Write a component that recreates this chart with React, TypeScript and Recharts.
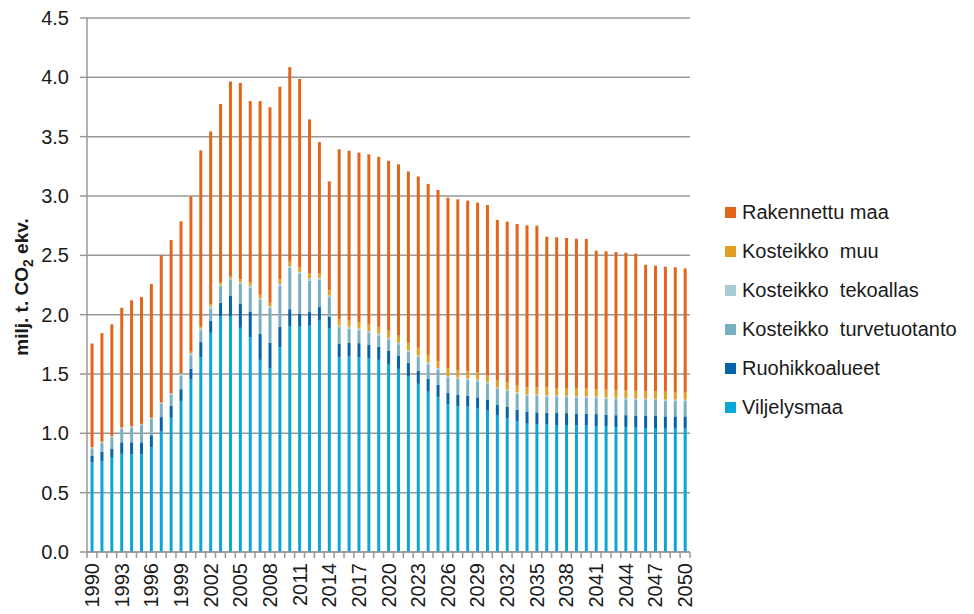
import React from "react";
import { BarChart, Bar, XAxis, YAxis, CartesianGrid } from "recharts";

const years = Array.from({ length: 61 }, (_, i) => String(1990 + i));

const viljelysmaa = [
  0.755, 0.767, 0.794, 0.827, 0.824, 0.824, 0.884, 1.02, 1.131, 1.273,
  1.453, 1.643, 1.847, 1.989, 1.989, 1.889, 1.811, 1.619, 1.546, 1.727,
  1.904, 1.904, 1.907, 1.952, 1.883, 1.64, 1.646, 1.643, 1.634, 1.619,
  1.585, 1.543, 1.483, 1.417, 1.351, 1.303, 1.243, 1.228, 1.225, 1.211,
  1.191, 1.149, 1.124, 1.101, 1.081, 1.079, 1.073, 1.07, 1.07, 1.067,
  1.065, 1.062, 1.056, 1.053, 1.053, 1.048, 1.045, 1.045, 1.039, 1.039,
  1.039,
];
const ruohikkoalueet = [
  0.054, 0.078, 0.078, 0.097, 0.1, 0.1, 0.1, 0.117, 0.099, 0.099,
  0.093, 0.126, 0.102, 0.111, 0.171, 0.201, 0.214, 0.219, 0.217, 0.171,
  0.142, 0.106, 0.115, 0.112, 0.1, 0.114, 0.117, 0.117, 0.111, 0.111,
  0.109, 0.109, 0.111, 0.111, 0.111, 0.105, 0.099, 0.098, 0.092, 0.092,
  0.093, 0.09, 0.098, 0.098, 0.102, 0.098, 0.101, 0.101, 0.1, 0.1,
  0.1, 0.1, 0.1, 0.1, 0.1, 0.1, 0.104, 0.104, 0.104, 0.104,
  0.104,
];
const turvetuotanto = [
  0.066, 0.075, 0.096, 0.116, 0.125, 0.146, 0.136, 0.113, 0.1, 0.114,
  0.112, 0.099, 0.1, 0.14, 0.132, 0.17, 0.204, 0.292, 0.295, 0.346,
  0.349, 0.334, 0.264, 0.231, 0.165, 0.141, 0.12, 0.108, 0.105, 0.096,
  0.099, 0.099, 0.094, 0.115, 0.12, 0.129, 0.13, 0.134, 0.135, 0.135,
  0.137, 0.135, 0.135, 0.135, 0.132, 0.138, 0.135, 0.135, 0.135, 0.135,
  0.135, 0.135, 0.135, 0.135, 0.134, 0.134, 0.131, 0.131, 0.131, 0.131,
  0.129,
];
const tekoallas = [
  0.007, 0.007, 0.007, 0.007, 0.007, 0.007, 0.007, 0.007, 0.006, 0.016,
  0.017, 0.015, 0.021, 0.015, 0.012, 0.014, 0.015, 0.009, 0.012, 0.015,
  0.015, 0.015, 0.018, 0.015, 0.012, 0.012, 0.015, 0.015, 0.012, 0.015,
  0.012, 0.012, 0.012, 0.012, 0.015, 0.012, 0.011, 0.009, 0.011, 0.014,
  0.012, 0.011, 0.011, 0.012, 0.011, 0.011, 0.011, 0.011, 0.011, 0.011,
  0.011, 0.011, 0.011, 0.011, 0.011, 0.011, 0.011, 0.011, 0.011, 0.011,
  0.012,
];
const muu = [
  0.003, 0.003, 0.003, 0.003, 0.003, 0.003, 0.004, 0.003, 0.003, 0.005,
  0.013, 0.021, 0.018, 0.019, 0.021, 0.024, 0.03, 0.03, 0.03, 0.039,
  0.036, 0.042, 0.046, 0.04, 0.045, 0.057, 0.051, 0.051, 0.054, 0.054,
  0.06, 0.06, 0.063, 0.066, 0.064, 0.057, 0.068, 0.065, 0.062, 0.062,
  0.059, 0.064, 0.062, 0.061, 0.064, 0.064, 0.068, 0.065, 0.065, 0.065,
  0.065, 0.066, 0.066, 0.066, 0.066, 0.066, 0.065, 0.065, 0.065, 0.064,
  0.064,
];
const rakennettu = [
  0.872, 0.914, 0.941, 1.008, 1.062, 1.068, 1.128, 1.24, 1.29, 1.279,
  1.308, 1.48, 1.456, 1.502, 1.64, 1.655, 1.526, 1.631, 1.648, 1.622,
  1.64, 1.585, 1.296, 1.104, 0.918, 1.43, 1.432, 1.432, 1.435, 1.435,
  1.432, 1.444, 1.444, 1.444, 1.441, 1.445, 1.435, 1.438, 1.436, 1.43,
  1.432, 1.349, 1.354, 1.357, 1.363, 1.36, 1.269, 1.27, 1.265, 1.262,
  1.262, 1.165, 1.166, 1.163, 1.158, 1.155, 1.065, 1.057, 1.054, 1.05,
  1.042,
];

const yTicks = [0, 0.5, 1, 1.5, 2, 2.5, 3, 3.5, 4, 4.5];

const series = [
  { key: "vilj", name: "Viljelysmaa", color: "#0ba6d6", values: viljelysmaa },
  { key: "ruoh", name: "Ruohikkoalueet", color: "#0565a8", values: ruohikkoalueet },
  { key: "turve", name: "Kosteikko  turvetuotanto", color: "#79afc3", values: turvetuotanto },
  { key: "teko", name: "Kosteikko  tekoallas", color: "#a8cbd6", values: tekoallas },
  { key: "muu", name: "Kosteikko  muu", color: "#e0a026", values: muu },
  { key: "rak", name: "Rakennettu maa", color: "#e2651c", values: rakennettu },
];

const data = years.map((y, i) => {
  const row: any = { year: y };
  series.forEach((s) => (row[s.key] = s.values[i]));
  return row;
});

const FONT = "Arial, 'Liberation Sans', sans-serif";

const YearTick = (props: any) => {
  const { x, y, payload, index } = props;
  const half = payload && payload.offset ? payload.offset : 4.94;
  return (
    <g>
      <line x1={x - half} y1={y - 8} x2={x - half} y2={y - 2} stroke="#999" strokeWidth={1.5} />
      {index === years.length - 1 && (
        <line x1={x + half} y1={y - 8} x2={x + half} y2={y - 2} stroke="#999" strokeWidth={1.5} />
      )}
      {index % 3 === 0 && (
        <text
          x={0}
          y={0}
          transform={`translate(${x + 7},${y + 3}) rotate(-90)`}
          textAnchor="end"
          fontSize={20}
          fill="#1a1a1a"
          fontFamily={FONT}
        >
          {payload.value}
        </text>
      )}
    </g>
  );
};

const YLabel = () => (
  <text
    transform="translate(28,287) rotate(-90)"
    textAnchor="middle"
    fontSize={19}
    fontWeight="bold"
    fill="#1a1a1a"
    fontFamily={FONT}
  >
    milj. t. CO
    <tspan fontSize={14} dy={5}>2</tspan>
    <tspan dy={-5}> ekv.</tspan>
  </text>
);

const LegendBox = () => (
  <div
    style={{
      position: "absolute",
      left: 725,
      top: 193,
      fontFamily: FONT,
      fontSize: 20,
      color: "#1a1a1a",
    }}
  >
    {[...series].reverse().map((s) => (
      <div key={s.key} style={{ display: "flex", alignItems: "center", height: 39, whiteSpace: "pre" }}>
        <span style={{ width: 11, height: 11, background: s.color, marginRight: 6, display: "inline-block" }} />
        {s.name}
      </div>
    ))}
  </div>
);

export default function App() {
  return (
    <div style={{ position: "absolute", left: 0, top: 0, width: 974, height: 614, background: "#fff" }}>
      <BarChart
        width={974}
        height={614}
        data={data}
        barCategoryGap="36%"
        margin={{ top: 18, right: 284, left: 0, bottom: 0 }}
      >
        <CartesianGrid vertical={false} stroke="#999" strokeWidth={1.5} />
        <XAxis
          dataKey="year"
          interval={0}
          tick={<YearTick />}
          tickLine={false}
          axisLine={{ stroke: "#999", strokeWidth: 1.5 }}
          height={62}
        />
        <YAxis
          domain={[0, 4.5]}
          ticks={yTicks}
          interval={0}
          width={87}
          tickFormatter={(v: number) => v.toFixed(1)}
          tick={{ fontSize: 20, fill: "#1a1a1a", fontFamily: FONT }}
          tickLine={{ stroke: "#999", strokeWidth: 1.5 }}
          tickSize={7}
          tickMargin={11}
          axisLine={{ stroke: "#999", strokeWidth: 1.5 }}
          label={<YLabel />}
        />
        {series.map((s) => (
          <Bar
            key={s.key}
            dataKey={s.key}
            name={s.name}
            stackId="a"
            fill={s.color}
            isAnimationActive={false}
          />
        ))}
      </BarChart>
      <LegendBox />
    </div>
  );
}
